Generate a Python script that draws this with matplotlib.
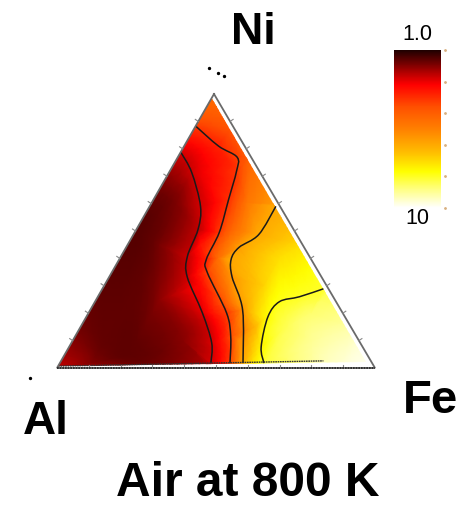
import numpy as np
import matplotlib
matplotlib.use("Agg")
import matplotlib.pyplot as plt
import matplotlib.tri as mtri
from matplotlib.colors import LinearSegmentedColormap, Normalize
from matplotlib.cm import ScalarMappable
from matplotlib.patches import PathPatch, Polygon
from matplotlib.path import Path

plt.rcParams['font.family'] = ['Liberation Sans', 'DejaVu Sans']

title = "Air at 800 K"
corner_labels = ["Ni", "Al", "Fe"]
cbar_labels = ["1.0", "10"]

# contour lines: (Ni fraction, Fe fraction)
contour_a = [(.788,0),(.714,.071),(.590,.160),(.505,.194),(.407,.209),(.333,.245),(.201,.358),(.092,.441),(.018,.475)]
contour_b = [(.883,0),(.810,.108),(.769,.187),(.718,.210),(.615,.236),(.495,.266),(.396,.274),(.348,.301),(.201,.434),(.114,.490),(.018,.535)]
contour_c = [(.590,.397),(.487,.394),(.440,.355),(.396,.352),(.333,.386),(.212,.479),(.018,.576)]
contour_d = [(.289,.695),(.260,.634),(.242,.580),(.187,.571),(.077,.604),(.018,.642)]
contour_levels = [0.15, 0.29, 0.60, 0.80]

# other field samples: (Ni, Fe, log10 value)
field_samples = [
    (0,0,.22),(.05,0,.12),(.15,0,.07),(.3,0,.06),(.5,0,.04),(.65,0,.05),(1,0,.46),(.94,0,.40),
    (.05,.2,.04),(.1,.35,.09),(.3,.1,.07),(.25,.2,.10),(.45,.1,.06),(.6,.08,.08),(.02,.1,.10),(.1,.1,.07),
    (.94,.06,.44),(.883,.117,.43),(.77,.23,.44),(.6,.4,.60),(.45,.55,.72),(.29,.71,.82),(.15,.85,.92),(.05,.95,.98),(0,1,1.0),
    (.6,.3,.46),(.75,.2,.38),(.5,.33,.52),(.4,.31,.49),(.1,.52,.47),(.25,.4,.42),(.3,.5,.70),(.4,.5,.72),
    (.15,.55,.68),(.1,.75,.90),(0,.8,.94),(0,.9,.98),(0,.65,.82),(0,.58,.60),(0,.535,.29),(0,.48,.15),(0,.3,.05),
    (.2,.7,.88),(.15,.65,.87),(.45,.23,.22),(.3,.3,.24),(.15,.45,.24),
]

# colour map stops (position, colour)
cmap_stops = [(0,"#1e0000"),(.07,"#650000"),(.14,"#b00000"),(.22,"#ff0000"),(.36,"#ff5000"),(.5,"#ff8000"),
              (.65,"#ffbe00"),(.77,"#ffff00"),(.88,"#ffff80"),(1,"#ffffff")]

# painted area of the map, as (Ni, Fe) corners
fill_corners = [(.985,0),(.007,0),(.022,.961)]
# dark edge under the painted area, as (Ni, Fe)
fill_edge = [(.007,0),(.026,.825)]

VERT_TOP = np.array([214., 94.])
VERT_LEFT = np.array([57., 368.])
VERT_RIGHT = np.array([375., 368.])

def to_xy(ni, fe):
    ni, fe = np.asarray(ni, float), np.asarray(fe, float)
    al = 1 - ni - fe
    x = ni*VERT_TOP[0] + al*VERT_LEFT[0] + fe*VERT_RIGHT[0]
    y = ni*VERT_TOP[1] + al*VERT_LEFT[1] + fe*VERT_RIGHT[1]
    return x, y

def smooth_path(x, y):
    pts = np.column_stack([x, y])
    verts = [pts[0]]
    for i in range(len(pts)-1):
        p0 = pts[max(i-1, 0)]; p1 = pts[i]; p2 = pts[i+1]; p3 = pts[min(i+2, len(pts)-1)]
        verts += [p1+(p2-p0)/6, p2-(p3-p1)/6, p2]
    return Path(np.array(verts), [Path.MOVETO]+[Path.CURVE4]*(len(verts)-1))

cmap = LinearSegmentedColormap.from_list("hot_air", cmap_stops, N=512)
norm = Normalize(0, 1)

fig = plt.figure(figsize=(4.63, 5.05), dpi=100)
ax = fig.add_axes([0, 0, 1, 1])
ax.set_xlim(0, 463); ax.set_ylim(505, 0); ax.axis("off")

pts = list(field_samples)
for line, lev in zip([contour_a, contour_b, contour_c, contour_d], contour_levels):
    pts += [(n, f, lev) for n, f in line]
pts = np.array(pts)
x, y = to_xy(pts[:, 0], pts[:, 1])
tri = mtri.Triangulation(x, y)
refiner = mtri.UniformTriRefiner(tri)
interp = mtri.LinearTriInterpolator(tri, pts[:, 2])
tf, zf = refiner.refine_field(pts[:, 2], triinterpolator=interp, subdiv=2)
for _ in range(12):
    s = np.zeros_like(zf); c = np.zeros_like(zf)
    e = tf.edges
    np.add.at(s, e[:, 0], zf[e[:, 1]]); np.add.at(c, e[:, 0], 1)
    np.add.at(s, e[:, 1], zf[e[:, 0]]); np.add.at(c, e[:, 1], 1)
    zf = 0.5*zf + 0.5*s/c
mesh = ax.tripcolor(tf, zf, shading="gouraud", cmap=cmap, norm=norm, zorder=1)
fc = np.array(fill_corners)
cx, cy = to_xy(fc[:, 0], fc[:, 1])
clip = Polygon(np.column_stack([cx, cy]), closed=True, transform=ax.transData, fill=False, edgecolor="none")
ax.add_patch(clip)
mesh.set_clip_path(clip)

for line in [contour_a, contour_b, contour_c, contour_d]:
    arr = np.array(line)
    lx, ly = to_xy(arr[:, 0], arr[:, 1])
    ax.add_patch(PathPatch(smooth_path(lx, ly), fill=False, edgecolor="#1a1a1a", lw=1.1, zorder=3))

fe_arr = np.array(fill_edge)
ex, ey = to_xy(fe_arr[:, 0], fe_arr[:, 1])
ax.plot(ex, ey, color="#333333", lw=1.0, ls=(0, (1.2, 0.5)), zorder=3)

# triangle frame
tx, ty = to_xy([1, 0, 0, 1], [0, 0, 1, 0])
ax.plot(tx, ty, color="#6a6a6a", lw=1.3, zorder=4, solid_joinstyle="miter")
ax.plot(tx[1:3], ty[1:3], color="#222222", lw=1.2, ls=(0, (1, 0.6)), zorder=5)

# ternary ticks
fracs = [.1,.2,.3,.4,.5,.6,.7,.8,.9]
for f in fracs:
    for (n, fe), (dx, dy) in [((f, 0), (-3, -2)), ((f, 1-f), (3, -2)), ((0, f), (0, -3))]:
        px, py = to_xy(n, fe)
        ax.plot([px, px+dx], [py, py+dy], color="#888888", lw=0.8, zorder=4)

ax.text(253, 32, corner_labels[0], fontsize=32, fontweight="bold", ha="center", va="center", color="black")
ax.text(45.5, 422, corner_labels[1], fontsize=33, fontweight="bold", ha="center", va="center", color="black")
ax.text(430.5, 401, corner_labels[2], fontsize=34, fontweight="bold", ha="center", va="center", color="black")
ax.text(248, 484, title, fontsize=34.5, fontweight="bold", ha="center", va="center", color="black")
ax.text(417, 35, cbar_labels[0], fontsize=15.5, ha="center", va="center", color="black")
ax.text(417, 219, cbar_labels[1], fontsize=15.5, ha="center", va="center", color="black")

# specks
ax.plot([209, 218, 224, 30], [68, 73, 76, 378], ls="none", marker="o", ms=1.4, color="black", zorder=5)

cax = fig.add_axes([394/463, 1-208/505, 47/463, 158/505])
cb = fig.colorbar(ScalarMappable(norm=norm, cmap=cmap), cax=cax, ticks=[0,.2,.4,.6,.8,1])
cb.ax.invert_yaxis()
cb.outline.set_visible(False)
cb.ax.tick_params(length=0, labelright=False)
# small tick specks right of the bar
for t in [0,.2,.4,.6,.8,1]:
    cb.ax.plot([1.08], [t], marker="o", ms=1.0, color="#d8b080", clip_on=False, transform=cb.ax.get_yaxis_transform())

fig.savefig("out.png", dpi=100)
